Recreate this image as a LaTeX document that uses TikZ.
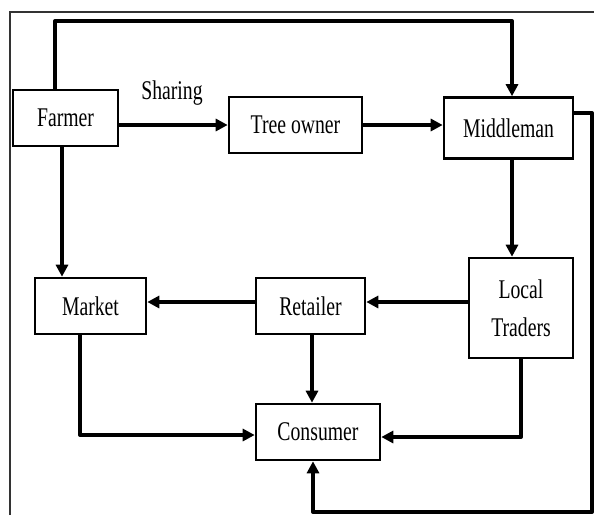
\documentclass[tikz,border=0pt]{standalone}
\usepackage{fontspec}
\setmainfont{Liberation Serif}[FakeStretch=0.73]
\usetikzlibrary{arrows.meta}
\begin{document}
\begin{tikzpicture}[x=1pt,y=-1pt,
  box/.style={draw=black,line width=2.6pt,fill=white,inner sep=0pt,align=center,font=\fontsize{27}{28}\selectfont},
  arr/.style={line width=4pt,-{Triangle[length=12pt,width=12pt]},line join=round},
  frame/.style={line width=1.4pt,draw=black!80}]
\useasboundingbox (0,0) rectangle (594,515);
\draw[frame] (10,515) -- (10,12) -- (594,12);
\node[box,minimum width=105pt,minimum height=56pt] (Farmer) at (65.5,118) {Farmer};
\node[box,minimum width=133pt,minimum height=56pt] (Tree) at (295.5,125) {Tree owner};
\node[box,minimum width=129pt,minimum height=61pt] (Middleman) at (508.5,128) {Middleman};
\node[box,minimum width=111pt,minimum height=56pt] (Market) at (90.5,306) {Market};
\node[box,minimum width=109pt,minimum height=56pt] (Retailer) at (310.5,306) {Retailer};
\node[box,minimum width=104pt,minimum height=100pt,font=\fontsize{27}{38}\selectfont] (Local) at (521,308) {Local\\Traders};
\node[box,minimum width=124pt,minimum height=56pt] (Consumer) at (318,432) {Consumer};
\node[font=\fontsize{27}{28}\selectfont,inner sep=0pt] (Sharing) at (172,93) {Sharing};
\coordinate (c1) at (55,21);
\coordinate (c2) at (512,21);
\draw[arr] (Farmer.north -| c1) -- (c1) -- (c2) -- (Middleman.north -| c2);
\draw[arr] (Farmer.east |- Tree.west) -- (Tree.west);
\draw[arr] (Tree.east) -- (Middleman.west |- Tree.east);
\coordinate (c3) at (62,0);
\draw[arr] (Farmer.south -| c3) -- (Market.north -| c3);
\draw[arr] (Middleman.south -| c2) -- (Local.north -| c2);
\coordinate (c4) at (0,302);
\draw[arr] (Local.west |- c4) -- (Retailer.east |- c4);
\draw[arr] (Retailer.west |- c4) -- (Market.east |- c4);
\coordinate (c5) at (312,0);
\draw[arr] (Retailer.south -| c5) -- (Consumer.north -| c5);
\coordinate (c6) at (80,435);
\draw[arr] (Market.south -| c6) -- (c6) -- (Consumer.west |- c6);
\coordinate (c7) at (521,437);
\draw[arr] (Local.south -| c7) -- (c7) -- (Consumer.east |- c7);
\coordinate (c8) at (592,113);
\coordinate (c9) at (592,512);
\coordinate (c10) at (313,512);
\draw[arr] (Middleman.east |- c8) -- (c8) -- (c9) -- (c10) -- (Consumer.south -| c10);
\end{tikzpicture}
\end{document}
